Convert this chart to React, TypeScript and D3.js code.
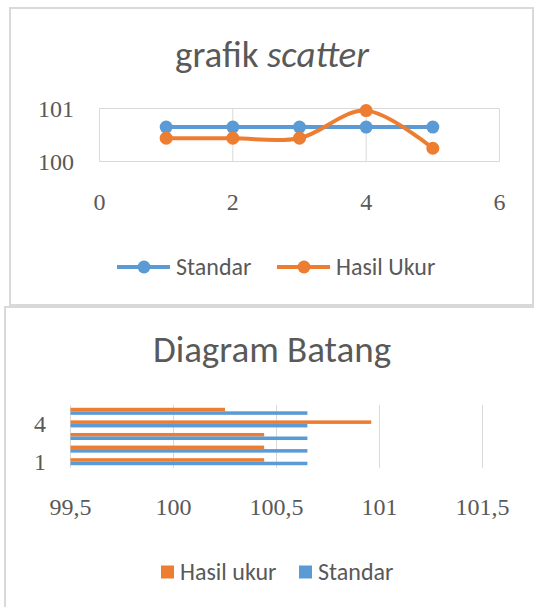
import React, { useRef, useEffect } from 'react';
import * as d3 from 'd3';

// --- data ---
const xValues = [1, 2, 3, 4, 5];
const standar = [100.65, 100.65, 100.65, 100.65, 100.65];
const hasilUkur = [100.44, 100.44, 100.44, 100.96, 100.25];
const categories = ['1', '2', '3', '4', '5'];
const scatterXTicks = [0, 2, 4, 6];
const scatterYTicks = [100, 101];
const barXTicks = [99.5, 100, 100.5, 101, 101.5];
const barLabelled = ['1', '4'];

const BLUE = '#5b9bd5';
const ORANGE = '#ed7d31';
const TEXT = '#595959';
const GRID = '#d9d9d9';
const SANS = 'Calibri, Carlito, Lato, sans-serif';
const SERIF = '"Liberation Serif", serif';

const App = () => {
    const ref = useRef<SVGSVGElement>(null);

    useEffect(() => {
        const svg = d3.select(ref.current);
        svg.selectAll('*').remove();

        // ===== Chart 1: grafik scatter =====
        const top = svg.append('g');
        top.append('rect')
            .attr('x', 10).attr('y', 8).attr('width', 523).attr('height', 297)
            .attr('fill', '#fff').attr('stroke', GRID).attr('stroke-width', 2);

        const title1 = top.append('text')
            .attr('x', 272).attr('y', 67)
            .attr('text-anchor', 'middle')
            .attr('fill', TEXT)
            .style('font-family', SANS)
            .style('font-size', '37px');
        title1.append('tspan').text('grafik ');
        title1.append('tspan').attr('font-style', 'italic').text('scatter');

        const x1 = d3.scaleLinear().domain([0, 6]).range([99.5, 499.5]);
        const y1 = d3.scaleLinear().domain([100, 101]).range([161.5, 108.5]);

        // gridlines
        top.append('g')
            .selectAll('line')
            .data(scatterXTicks)
            .join('line')
            .attr('x1', d => x1(d)).attr('x2', d => x1(d))
            .attr('y1', y1(100)).attr('y2', y1(101))
            .attr('stroke', GRID).attr('stroke-width', 1);
        top.append('g')
            .selectAll('line')
            .data(scatterYTicks)
            .join('line')
            .attr('x1', x1(0)).attr('x2', x1(6))
            .attr('y1', d => y1(d)).attr('y2', d => y1(d))
            .attr('stroke', GRID).attr('stroke-width', 1);

        // tick labels
        top.append('g')
            .selectAll('text')
            .data(scatterYTicks)
            .join('text')
            .attr('x', 74).attr('y', d => y1(d))
            .attr('dy', '0.35em')
            .attr('text-anchor', 'end')
            .attr('fill', TEXT)
            .style('font-family', SERIF)
            .style('font-size', '24px')
            .text(d => d);
        top.append('g')
            .selectAll('text')
            .data(scatterXTicks)
            .join('text')
            .attr('x', d => x1(d)).attr('y', 202)
            .attr('dy', '0.35em')
            .attr('text-anchor', 'middle')
            .attr('fill', TEXT)
            .style('font-family', SERIF)
            .style('font-size', '24px')
            .text(d => d);

        // lines + markers (Excel smoothed line ~ uniform Catmull-Rom)
        const line = d3.line<number>()
            .x((d, i) => x1(xValues[i]))
            .y(d => y1(d))
            .curve(d3.curveCatmullRom.alpha(0));

        const series = [
            { name: 'Standar', values: standar, color: BLUE },
            { name: 'Hasil Ukur', values: hasilUkur, color: ORANGE },
        ];
        series.forEach(s => {
            top.append('path')
                .datum(s.values)
                .attr('fill', 'none')
                .attr('stroke', s.color)
                .attr('stroke-width', 4)
                .attr('stroke-linecap', 'round')
                .attr('d', line);
            top.append('g')
                .selectAll('circle')
                .data(s.values)
                .join('circle')
                .attr('cx', (d, i) => x1(xValues[i]))
                .attr('cy', d => y1(d))
                .attr('r', 6.5)
                .attr('fill', s.color);
        });

        // legend
        const legend1 = [
            { name: 'Standar', color: BLUE, x: 117 },
            { name: 'Hasil Ukur', color: ORANGE, x: 277 },
        ];
        legend1.forEach(l => {
            const g = top.append('g').attr('transform', `translate(${l.x},267)`);
            g.append('line').attr('x1', 0).attr('x2', 53)
                .attr('stroke', l.color).attr('stroke-width', 4);
            g.append('circle').attr('cx', 27).attr('r', 6.5).attr('fill', l.color);
            g.append('text')
                .attr('x', 59).attr('dy', '0.35em')
                .attr('fill', TEXT)
                .style('font-family', SANS)
                .style('font-size', '24px')
                .text(l.name);
        });

        // ===== Chart 2: Diagram Batang =====
        const bot = svg.append('g');
        bot.append('rect')
            .attr('x', 5).attr('y', 307).attr('width', 540).attr('height', 320)
            .attr('fill', '#fff').attr('stroke', GRID).attr('stroke-width', 2);

        bot.append('text')
            .attr('x', 272).attr('y', 362)
            .attr('text-anchor', 'middle')
            .attr('fill', TEXT)
            .style('font-family', SANS)
            .style('font-size', '37px')
            .text('Diagram Batang');

        const x2 = d3.scaleLinear().domain([99.5, 101.5]).range([70.5, 482.5]);
        const y2 = d3.scaleBand<string>()
            .domain([...categories].reverse())
            .range([405, 468])
            .paddingInner(0.44)
            .paddingOuter(0.22);
        const inner = d3.scaleBand<string>()
            .domain(['Hasil ukur', 'Standar'])
            .range([0, y2.bandwidth()]);

        bot.append('g')
            .selectAll('line')
            .data(barXTicks)
            .join('line')
            .attr('x1', d => x2(d)).attr('x2', d => x2(d))
            .attr('y1', 405).attr('y2', 468)
            .attr('stroke', GRID).attr('stroke-width', 1);

        const barSeries = [
            { name: 'Hasil ukur', values: hasilUkur, color: ORANGE },
            { name: 'Standar', values: standar, color: BLUE },
        ];
        barSeries.forEach(s => {
            bot.append('g')
                .selectAll('rect')
                .data(s.values)
                .join('rect')
                .attr('x', x2(99.5))
                .attr('y', (d, i) => (y2(categories[i]) as number) + (inner(s.name) as number))
                .attr('width', d => x2(d) - x2(99.5))
                .attr('height', inner.bandwidth())
                .attr('fill', s.color);
        });

        bot.append('g')
            .selectAll('text')
            .data(barLabelled)
            .join('text')
            .attr('x', 46)
            .attr('y', d => (y2(d) as number) + y2.bandwidth() / 2)
            .attr('dy', '0.35em')
            .attr('text-anchor', 'end')
            .attr('fill', TEXT)
            .style('font-family', SERIF)
            .style('font-size', '24px')
            .text(d => d);

        bot.append('g')
            .selectAll('text')
            .data(barXTicks)
            .join('text')
            .attr('x', d => x2(d)).attr('y', 507)
            .attr('dy', '0.35em')
            .attr('text-anchor', 'middle')
            .attr('fill', TEXT)
            .style('font-family', SERIF)
            .style('font-size', '24px')
            .text(d => String(d).replace('.', ','));

        const legend2 = [
            { name: 'Hasil ukur', color: ORANGE, x: 161 },
            { name: 'Standar', color: BLUE, x: 299 },
        ];
        legend2.forEach(l => {
            const g = bot.append('g').attr('transform', `translate(${l.x},572)`);
            g.append('rect').attr('x', 0).attr('y', -6.5).attr('width', 13).attr('height', 13)
                .attr('fill', l.color);
            g.append('text')
                .attr('x', 19).attr('dy', '0.35em')
                .attr('fill', TEXT)
                .style('font-family', SANS)
                .style('font-size', '24px')
                .text(l.name);
        });
    }, []);

    return (
        <svg
            ref={ref}
            width={534}
            height={607}
            style={{ position: 'absolute', left: 0, top: 0, background: '#fff' }}
        />
    );
};

export default App;
